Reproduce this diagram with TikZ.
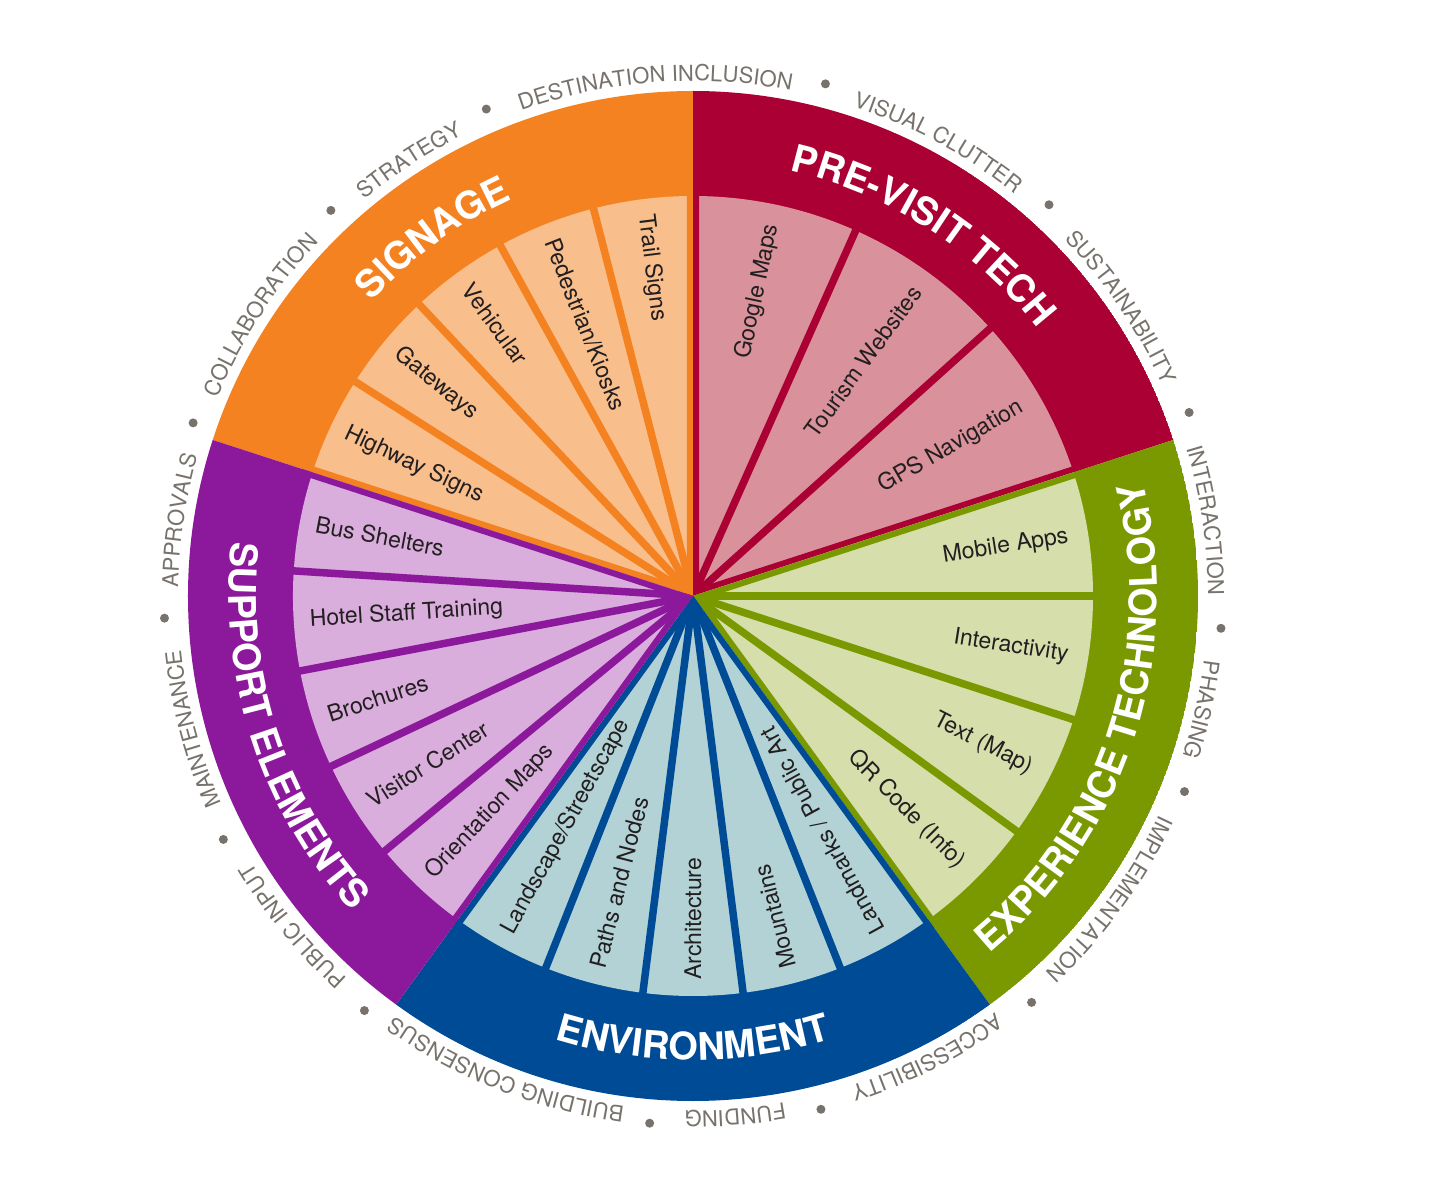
\documentclass[tikz,border=0pt]{standalone}
\usepackage{fontspec}
\setmainfont{TeX Gyre Heros}
\usetikzlibrary{decorations.text}

\definecolor{signdark}{HTML}{F58220}
\definecolor{signlight}{HTML}{F8BE8C}
\definecolor{techdark}{HTML}{AA0033}
\definecolor{techlight}{HTML}{D9929B}
\definecolor{expdark}{HTML}{7A9900}
\definecolor{explight}{HTML}{D6DEAC}
\definecolor{envdark}{HTML}{004B96}
\definecolor{envlight}{HTML}{B2D2D6}
\definecolor{supdark}{HTML}{8C199B}
\definecolor{suplight}{HTML}{D9ADDC}
\definecolor{ringgray}{HTML}{77726C}
\definecolor{itemtext}{HTML}{231F20}

\newcommand{\titlefont}{\fontsize{38}{40}\selectfont\bfseries}
\newcommand{\ringfont}{\fontsize{22}{24}\selectfont}

\tikzset{
  item/.style={font=\fontsize{23}{25}\selectfont, text=itemtext, inner sep=0pt},
  outitem/.style={item, anchor=east},
  initem/.style={item, anchor=west},
  partline/.style={line width=7.5pt},
  catline/.style={line width=12pt},
  cattitle/.style={decorate, decoration={text along path, text align=center,
      text color=white, text={|\titlefont|#1}}},
  ringlabel/.style={decorate, decoration={text along path, text align=center,
      text color=ringgray, text={|\ringfont|#1}}},
}

\begin{document}
\begin{tikzpicture}[x=1pt, y=1pt]
  \useasboundingbox (-693,-598) rectangle (739,596);

  % Signage
  \begin{scope}
    \clip (0,0) -- (90:505) arc[start angle=90, end angle=162, radius=505pt] -- cycle;
    \fill[signdark] (0,0) circle[radius=505pt];
    \fill[signlight] (0,0) -- (90:400) arc[start angle=90, end angle=162, radius=400pt] -- cycle;
    \foreach \a in {104.4,118.8,133.2,147.6}
      \draw[signdark, partline] (0,0) -- (\a:410);
    \draw[signdark, catline] (0,0) -- (90:410) (0,0) -- (162:410);
  \end{scope}
  % Pre-visit tech
  \begin{scope}
    \clip (0,0) -- (18:505) arc[start angle=18, end angle=90, radius=505pt] -- cycle;
    \fill[techdark] (0,0) circle[radius=505pt];
    \fill[techlight] (0,0) -- (18:400) arc[start angle=18, end angle=90, radius=400pt] -- cycle;
    \foreach \a in {42,66}
      \draw[techdark, partline] (0,0) -- (\a:410);
    \draw[techdark, catline] (0,0) -- (18:410) (0,0) -- (90:410);
  \end{scope}
  % Experience technology
  \begin{scope}
    \clip (0,0) -- (-54:505) arc[start angle=-54, end angle=18, radius=505pt] -- cycle;
    \fill[expdark] (0,0) circle[radius=505pt];
    \fill[explight] (0,0) -- (-54:400) arc[start angle=-54, end angle=18, radius=400pt] -- cycle;
    \foreach \a in {-36,-18,0}
      \draw[expdark, partline] (0,0) -- (\a:410);
    \draw[expdark, catline] (0,0) -- (-54:410) (0,0) -- (18:410);
  \end{scope}
  % Environment
  \begin{scope}
    \clip (0,0) -- (-126:505) arc[start angle=-126, end angle=-54, radius=505pt] -- cycle;
    \fill[envdark] (0,0) circle[radius=505pt];
    \fill[envlight] (0,0) -- (-126:400) arc[start angle=-126, end angle=-54, radius=400pt] -- cycle;
    \foreach \a in {-111.6,-97.2,-82.8,-68.4}
      \draw[envdark, partline] (0,0) -- (\a:410);
    \draw[envdark, catline] (0,0) -- (-126:410) (0,0) -- (-54:410);
  \end{scope}
  % Support elements
  \begin{scope}
    \clip (0,0) -- (162:505) arc[start angle=162, end angle=234, radius=505pt] -- cycle;
    \fill[supdark] (0,0) circle[radius=505pt];
    \fill[suplight] (0,0) -- (162:400) arc[start angle=162, end angle=234, radius=400pt] -- cycle;
    \foreach \a in {176.4,190.8,205.2,219.6}
      \draw[supdark, partline] (0,0) -- (\a:410);
    \draw[supdark, catline] (0,0) -- (162:410) (0,0) -- (234:410);
  \end{scope}

  % items
  \node[initem, rotate=277.2] (trail) at (97.2:384) {Trail Signs};
  \node[initem, rotate=291.6] (pedestrian) at (111.6:384) {Pedestrian/Kiosks};
  \node[initem, rotate=306] (vehicular) at (126:384) {Vehicular};
  \node[initem, rotate=320.4] (gateways) at (140.4:384) {Gateways};
  \node[initem, rotate=334.8] (highway) at (154.8:384) {Highway Signs};

  \node[outitem, rotate=78] (google) at (78:380) {Google Maps};
  \node[outitem, rotate=54] (tourism) at (54:380) {Tourism Websites};
  \node[outitem, rotate=30] (gps) at (30:380) {GPS Navigation};

  \node[outitem, rotate=9] (mobile) at (9:380) {Mobile Apps};
  \node[outitem, rotate=-9] (interactivity) at (-9:380) {Interactivity};
  \node[outitem, rotate=-27] (textmap) at (-27:380) {Text (Map)};
  \node[outitem, rotate=-45] (qrcode) at (-45:380) {QR Code (Info)};

  \node[initem, rotate=61.2] (landscape) at (-118.8:384) {Landscape/Streetscape};
  \node[initem, rotate=75.6] (paths) at (-104.4:384) {Paths and Nodes};
  \node[initem, rotate=90] (architecture) at (-90:384) {Architecture};
  \node[initem, rotate=104.4] (mountains) at (-75.6:384) {Mountains};
  \node[initem, rotate=118.8] (landmarks) at (-61.2:384) {Landmarks / Public Art};

  \node[initem, rotate=349.2] (bus) at (169.2:384) {Bus Shelters};
  \node[initem, rotate=3.6] (hotel) at (183.6:384) {Hotel Staff Training};
  \node[initem, rotate=18] (brochures) at (198:384) {Brochures};
  \node[initem, rotate=32.4] (visitor) at (212.4:384) {Visitor Center};
  \node[initem, rotate=46.8] (orientation) at (226.8:384) {Orientation Maps};

  % category titles
  \path[cattitle=SIGNAGE] (171:436) arc[start angle=171, end angle=81, radius=436pt];
  \path[cattitle=PRE-VISIT TECH] (102.5:436) arc[start angle=102.5, end angle=12.5, radius=436pt];
  \path[cattitle=EXPERIENCE TECHNOLOGY] (-63:464) arc[start angle=-63, end angle=27, radius=464pt];
  \path[cattitle=ENVIRONMENT] (-135:464) arc[start angle=-135, end angle=-45, radius=464pt];
  \path[cattitle=SUPPORT ELEMENTS] (153:464) arc[start angle=153, end angle=243, radius=464pt];

  % outer ring of labels
  \path[ringlabel=DESTINATION INCLUSION] (119.25:515) arc[start angle=119.25, end angle=69.25, radius=515pt];
  \path[ringlabel=VISUAL CLUTTER] (86.6:515) arc[start angle=86.6, end angle=36.6, radius=515pt];
  \path[ringlabel=SUSTAINABILITY] (59:515) arc[start angle=59, end angle=9, radius=515pt];
  \path[ringlabel=INTERACTION] (33.4:515) arc[start angle=33.4, end angle=-16.6, radius=515pt];
  \path[ringlabel=PHASING] (12.4:515) arc[start angle=12.4, end angle=-37.6, radius=515pt];
  \path[ringlabel=IMPLEMENTATION] (-11:515) arc[start angle=-11, end angle=-61, radius=515pt];
  \path[ringlabel=ACCESSIBILITY] (-38.1:515) arc[start angle=-38.1, end angle=-88.1, radius=515pt];
  \path[ringlabel=FUNDING] (-60.35:515) arc[start angle=-60.35, end angle=-110.35, radius=515pt];
  \path[ringlabel=BUILDING CONSENSUS] (-86.5:515) arc[start angle=-86.5, end angle=-136.5, radius=515pt];
  \path[ringlabel=PUBLIC INPUT] (-115.5:515) arc[start angle=-115.5, end angle=-165.5, radius=515pt];
  \path[ringlabel=MAINTENANCE] (-140.1:515) arc[start angle=-140.1, end angle=-190.1, radius=515pt];
  \path[ringlabel=APPROVALS] (196.6:515) arc[start angle=196.6, end angle=146.6, radius=515pt];
  \path[ringlabel=COLLABORATION] (172:515) arc[start angle=172, end angle=122, radius=515pt];
  \path[ringlabel=STRATEGY] (148.1:515) arc[start angle=148.1, end angle=98.1, radius=515pt];

  % dots between ring labels
  \foreach \a in {113,133.2,160.9,182.4,207.4,231.6,265.3,284,309.8,338.3,356.5,20.3,47.7,75.5}
    \fill[ringgray] (\a:529) circle[radius=4.5pt];
\end{tikzpicture}
\end{document}
